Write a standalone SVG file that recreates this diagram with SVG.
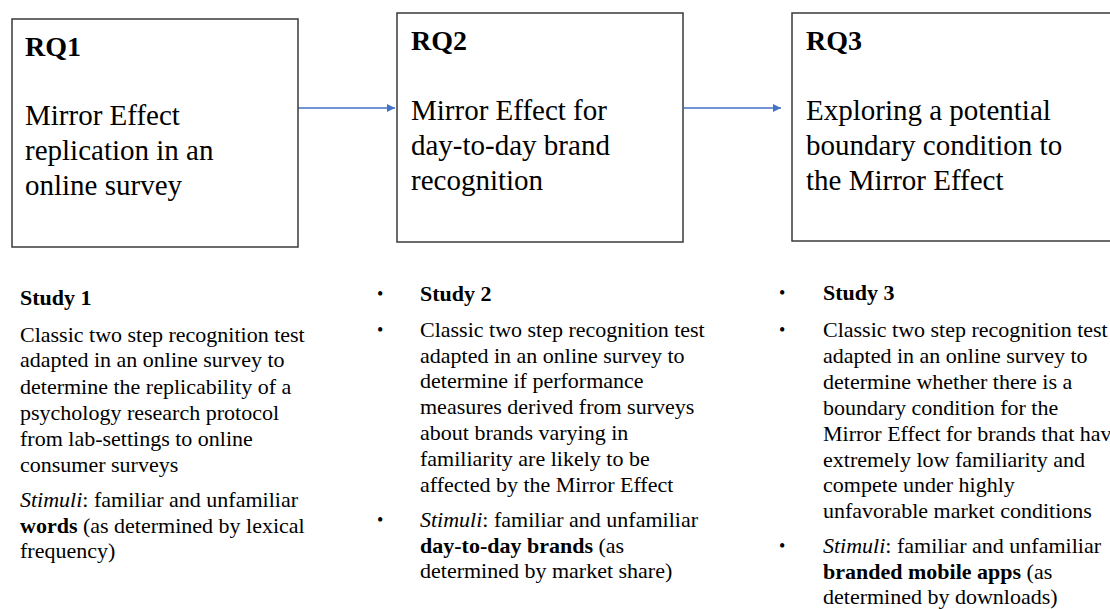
<svg xmlns="http://www.w3.org/2000/svg" width="1110" height="609" viewBox="0 0 1110 609">
<style>
.box{fill:#fff;stroke:#3a3a3a;stroke-width:1.5}
.rq{font-family:"Liberation Serif","Times New Roman",serif;font-weight:bold;font-size:28px;fill:#000}
.t{font-family:"Liberation Serif","Times New Roman",serif;font-size:29px;fill:#000}
.s{font-family:"Liberation Serif","Times New Roman",serif;font-size:22px;fill:#000}
.b{font-weight:bold}
.i{font-style:italic}
.bul{font-family:"Liberation Serif","Times New Roman",serif;font-size:18px;fill:#000}
.conn{stroke:#4472C4;stroke-width:1.3;fill:none}
</style>
<defs>
<marker id="ah" viewBox="0 0 10 10" refX="10" refY="5" markerWidth="8" markerHeight="8" markerUnits="userSpaceOnUse" orient="auto">
<path d="M0,0 L10,5 L0,10 z" fill="#4472C4"/>
</marker>
</defs>
<rect width="1110" height="609" fill="#fff"/>
<g id="connectors">
<line class="conn" x1="298" y1="108" x2="395" y2="108" marker-end="url(#ah)"/>
<line class="conn" x1="684" y1="108" x2="781" y2="108" marker-end="url(#ah)"/>
</g>
<g id="rq1">
<rect class="box" x="12" y="19" width="286" height="228"/>
<text class="rq" x="25" y="56">RQ1</text>
<text class="t" x="25" y="125">Mirror Effect</text>
<text class="t" x="25" y="160">replication in an</text>
<text class="t" x="25" y="195">online survey</text>
</g>
<g id="rq2">
<rect class="box" x="397" y="13" width="286" height="229"/>
<text class="rq" x="411" y="50">RQ2</text>
<text class="t" x="411" y="120">Mirror Effect for</text>
<text class="t" x="411" y="155">day-to-day brand</text>
<text class="t" x="411" y="190">recognition</text>
</g>
<g id="rq3">
<rect class="box" x="792" y="13" width="340" height="228"/>
<text class="rq" x="806" y="50">RQ3</text>
<text class="t" x="806" y="120">Exploring a potential</text>
<text class="t" x="806" y="155">boundary condition to</text>
<text class="t" x="806" y="190">the Mirror Effect</text>
</g>
<g id="study1">
<text class="s b" x="20" y="305">Study 1</text>
<text class="s" x="20" y="342">Classic two step recognition test</text>
<text class="s" x="20" y="367">adapted in an online survey to</text>
<text class="s" x="20" y="394">determine the replicability of a</text>
<text class="s" x="20" y="420">psychology research protocol</text>
<text class="s" x="20" y="446">from lab-settings to online</text>
<text class="s" x="20" y="472">consumer surveys</text>
<text class="s" x="20" y="507"><tspan class="i">Stimuli</tspan>: familiar and unfamiliar</text>
<text class="s" x="20" y="533"><tspan class="b">words</tspan> (as determined by lexical</text>
<text class="s" x="20" y="558">frequency)</text>
</g>
<g id="study2">
<text class="bul" x="377" y="300">•</text>
<text class="bul" x="377" y="336">•</text>
<text class="bul" x="377" y="526">•</text>
<text class="s b" x="420" y="301">Study 2</text>
<text class="s" x="420" y="337">Classic two step recognition test</text>
<text class="s" x="420" y="363">adapted in an online survey to</text>
<text class="s" x="420" y="388">determine if performance</text>
<text class="s" x="420" y="414">measures derived from surveys</text>
<text class="s" x="420" y="440">about brands varying in</text>
<text class="s" x="420" y="466">familiarity are likely to be</text>
<text class="s" x="420" y="492">affected by the Mirror Effect</text>
<text class="s" x="420" y="527"><tspan class="i">Stimuli</tspan>: familiar and unfamiliar</text>
<text class="s" x="420" y="553"><tspan class="b">day-to-day brands</tspan> (as</text>
<text class="s" x="420" y="578">determined by market share)</text>
</g>
<g id="study3">
<text class="bul" x="779" y="299">•</text>
<text class="bul" x="779" y="336">•</text>
<text class="bul" x="779" y="552">•</text>
<text class="s b" x="823" y="300">Study 3</text>
<text class="s" x="823" y="337">Classic two step recognition test</text>
<text class="s" x="823" y="363">adapted in an online survey to</text>
<text class="s" x="823" y="389">determine whether there is a</text>
<text class="s" x="823" y="415">boundary condition for the</text>
<text class="s" x="823" y="441">Mirror Effect for brands that have</text>
<text class="s" x="823" y="467">extremely low familiarity and</text>
<text class="s" x="823" y="492">compete under highly</text>
<text class="s" x="823" y="518">unfavorable market conditions</text>
<text class="s" x="823" y="553"><tspan class="i">Stimuli</tspan>: familiar and unfamiliar</text>
<text class="s" x="823" y="579"><tspan class="b">branded mobile apps</tspan> (as</text>
<text class="s" x="823" y="604">determined by downloads)</text>
</g>
</svg>
